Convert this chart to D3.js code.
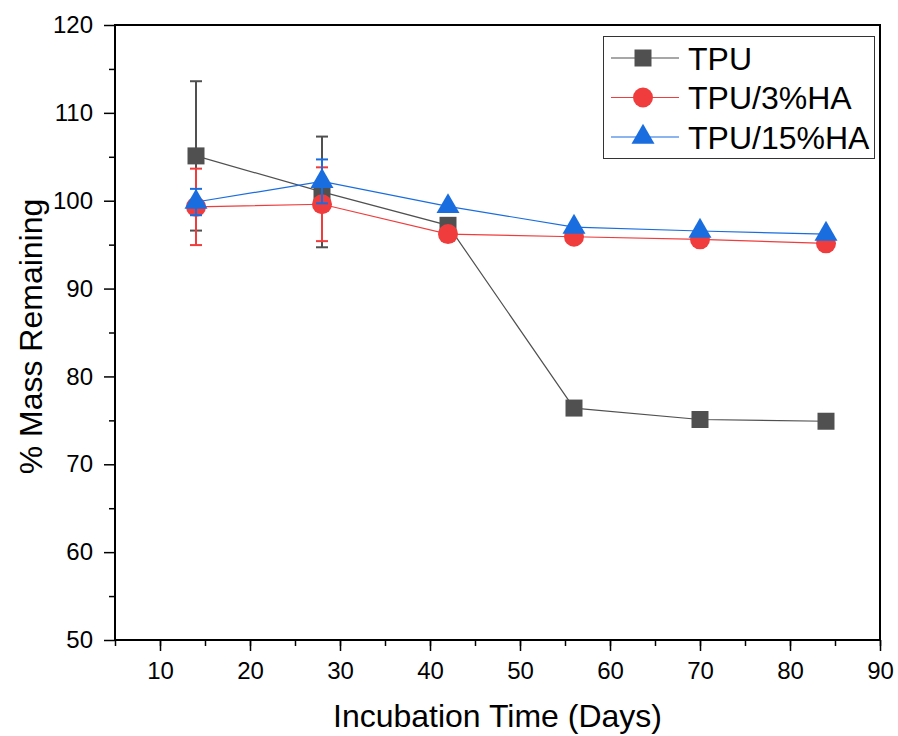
<!DOCTYPE html>
<html>
<head>
<meta charset="utf-8">
<script src="https://cdn.jsdelivr.net/npm/d3@7"></script>
<style>
  body { margin: 0; background: #fff; }
  text { font-family: "Liberation Sans", Arial, sans-serif; }
</style>
</head>
<body>
<div id="chart"></div>
<script>
const days = [14, 28, 42, 56, 70, 84];
const tpu = [105.1, 101.0, 97.2, 76.4, 75.1, 74.9];
const tpuErr = [8.5, 6.3, 0, 0, 0, 0];
const ha3 = [99.3, 99.6, 96.2, 95.9, 95.6, 95.15];
const ha3Err = [4.35, 4.2, 0, 0, 0, 0];
const ha15 = [99.85, 102.2, 99.35, 97.0, 96.55, 96.2];
const ha15Err = [1.5, 2.5, 0, 0, 0, 0];
const xTicks = [10, 20, 30, 40, 50, 60, 70, 80, 90];
const yTicks = [50, 60, 70, 80, 90, 100, 110, 120];

const width = 898;
const height = 736;
const plotLeft = 115, plotRight = 880, plotTop = 25, plotBottom = 640;

const series = [
  { name: "TPU", values: tpu, err: tpuErr, color: "#505050", symbol: d3.symbolSquare, size: 289 },
  { name: "TPU/3%HA", values: ha3, err: ha3Err, color: "#f03c3c", symbol: d3.symbolCircle, size: Math.PI * 100 },
  { name: "TPU/15%HA", values: ha15, err: ha15Err, color: "#1a6ddf", symbol: d3.symbolTriangle, size: 229 }
];

const svg = d3.select("#chart").append("svg").attr("width", width).attr("height", height);

const x = d3.scaleLinear().domain([5, 90]).range([plotLeft, plotRight]);
const y = d3.scaleLinear().domain([50, 120]).range([plotBottom, plotTop]);

// frame
svg.append("rect")
  .attr("x", plotLeft).attr("y", plotTop)
  .attr("width", plotRight - plotLeft).attr("height", plotBottom - plotTop)
  .attr("fill", "none").attr("stroke", "#000").attr("stroke-width", 2);

// x axis
const xAxis = svg.append("g").attr("transform", `translate(0,${plotBottom})`);
xAxis.append("g").call(d3.axisBottom(x).tickValues(d3.range(5, 91, 5)).tickSize(6).tickFormat(""));
xAxis.append("g").call(d3.axisBottom(x).tickValues(xTicks).tickSize(11).tickPadding(11).tickFormat(d3.format("d")));
xAxis.selectAll(".domain").remove();
xAxis.selectAll("line").attr("stroke", "#000").attr("stroke-width", 1.5);
xAxis.selectAll("text").attr("font-size", 24).attr("fill", "#000");

// y axis
const yAxis = svg.append("g").attr("transform", `translate(${plotLeft},0)`);
yAxis.append("g").call(d3.axisLeft(y).tickValues(d3.range(55, 120, 10)).tickSize(6).tickFormat(""));
yAxis.append("g").call(d3.axisLeft(y).tickValues(yTicks).tickSize(11).tickPadding(11).tickFormat(d3.format("d")));
yAxis.selectAll(".domain").remove();
yAxis.selectAll("line").attr("stroke", "#000").attr("stroke-width", 1.5);
yAxis.selectAll("text").attr("font-size", 24).attr("fill", "#000");

// axis titles
svg.append("text")
  .attr("x", (plotLeft + plotRight) / 2).attr("y", 727)
  .attr("text-anchor", "middle").attr("font-size", 32)
  .text("Incubation Time (Days)");

svg.append("text")
  .attr("transform", `translate(42,${(plotTop + plotBottom) / 2 + 4}) rotate(-90)`)
  .attr("text-anchor", "middle").attr("font-size", 32)
  .text("% Mass Remaining");

// series
const line = d3.line().x((d) => x(d[0])).y((d) => y(d[1]));

series.forEach((s) => {
  const pts = days.map((d, i) => [d, s.values[i], s.err[i]]);
  const g = svg.append("g");
  g.append("path")
    .attr("d", line(pts))
    .attr("fill", "none").attr("stroke", s.color).attr("stroke-width", 1.2);

  const eb = g.selectAll(".err").data(pts.filter((p) => p[2] > 0)).enter().append("g");
  eb.append("line")
    .attr("x1", (p) => x(p[0])).attr("x2", (p) => x(p[0]))
    .attr("y1", (p) => y(p[1] + p[2])).attr("y2", (p) => y(p[1] - p[2]));
  eb.append("line")
    .attr("x1", (p) => x(p[0]) - 6).attr("x2", (p) => x(p[0]) + 6)
    .attr("y1", (p) => y(p[1] + p[2])).attr("y2", (p) => y(p[1] + p[2]));
  eb.append("line")
    .attr("x1", (p) => x(p[0]) - 6).attr("x2", (p) => x(p[0]) + 6)
    .attr("y1", (p) => y(p[1] - p[2])).attr("y2", (p) => y(p[1] - p[2]));
  eb.selectAll("line").attr("stroke", s.color).attr("stroke-width", 2);

  g.selectAll(".pt").data(pts).enter().append("path")
    .attr("d", d3.symbol().type(s.symbol).size(s.size))
    .attr("transform", (p) => `translate(${x(p[0])},${y(p[1])})`)
    .attr("fill", s.color);
});

// legend
const legend = svg.append("g");
legend.append("rect")
  .attr("x", 603.5).attr("y", 36.5).attr("width", 271).attr("height", 122)
  .attr("fill", "#fff").attr("stroke", "#333").attr("stroke-width", 1);

series.forEach((s, i) => {
  const ly = 58 + i * 39.5;
  legend.append("line")
    .attr("x1", 611).attr("x2", 679).attr("y1", ly).attr("y2", ly)
    .attr("stroke", s.color).attr("stroke-width", 1.2);
  legend.append("path")
    .attr("d", d3.symbol().type(s.symbol).size(s.size))
    .attr("transform", `translate(643,${ly})`)
    .attr("fill", s.color);
  legend.append("text")
    .attr("x", 688).attr("y", ly + 11.5)
    .attr("font-size", 32)
    .text(s.name);
});
</script>
</body>
</html>
